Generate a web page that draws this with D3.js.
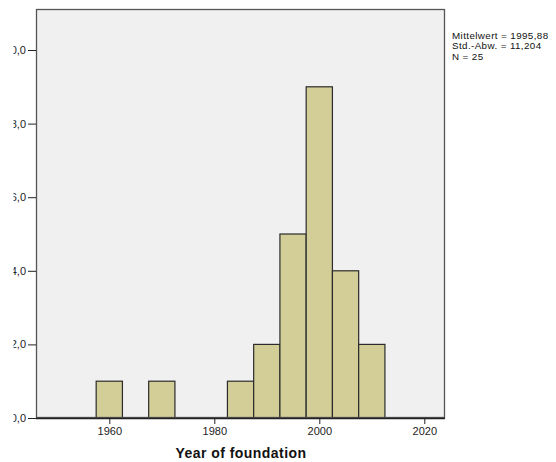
<!DOCTYPE html>
<html><head><meta charset="utf-8">
<script src="https://cdn.jsdelivr.net/npm/d3@7"></script>
<style>body{margin:0;background:#fff}svg{display:block;font-family:Arial,"Liberation Sans",sans-serif}</style>
</head><body>
<script>
const binStarts = [1957.5,1962.5,1967.5,1972.5,1977.5,1982.5,1987.5,1992.5,1997.5,2002.5,2007.5];
const counts    = [1,0,1,0,0,1,2,5,9,4,2];
const binWidth = 5;
const xTicks = [1960,1980,2000,2020];
const yTicks = [0,2,4,6,8,10];
const statsLines = ["Mittelwert = 1995,88","Std.-Abw. = 11,204","N = 25"];
const xTitle = "Year of foundation";

const W=556,H=462;
const L=36,T=9,R=445,B=418;
const svg=d3.select("body").append("svg").attr("width",W).attr("height",H);
const x=d3.scaleLinear().domain([1960,2020]).range([109.3,424.3]);
const y=d3.scaleLinear().domain([0,10]).range([B,50]);

svg.append("rect").attr("x",L).attr("y",T).attr("width",R-L).attr("height",B-T).attr("fill","#f0f0f0");

const bins=binStarts.map((s,i)=>({s,c:counts[i]})).filter(d=>d.c>0);
svg.append("g").selectAll("rect").data(bins).join("rect")
  .attr("x",d=>x(d.s)).attr("width",d=>x(d.s+binWidth)-x(d.s))
  .attr("y",d=>y(d.c)).attr("height",d=>y(0)-y(d.c))
  .attr("fill","#d3ce98").attr("stroke","#2b2b2b").attr("stroke-width",1.2);

svg.append("rect").attr("x",L+0.5).attr("y",T+0.5).attr("width",R-L-1).attr("height",B-T-1)
  .attr("fill","none").attr("stroke","#555").attr("stroke-width",1.3);

// y axis (labels clipped at the left like the reference)
svg.append("clipPath").attr("id","yc").append("rect").attr("x",13.5).attr("y",0).attr("width",40).attr("height",H);
const yWrap=svg.append("g").attr("clip-path","url(#yc)");
const ya=yWrap.append("g").attr("transform",`translate(${L},0)`)
  .call(d3.axisLeft(y).tickValues(yTicks).tickSize(8).tickPadding(2).tickFormat(d=>d3.format(".1f")(d).replace(".",",")));
ya.select(".domain").remove();
ya.selectAll(".tick line").attr("stroke","#222");
ya.selectAll("text").attr("font-size","11px").attr("fill","#222");

// x axis
const xa=svg.append("g").attr("transform",`translate(0,${B})`)
  .call(d3.axisBottom(x).tickValues(xTicks).tickSize(6).tickPadding(3).tickFormat(d3.format("d")));
xa.select(".domain").remove();
xa.selectAll(".tick line").attr("stroke","#222");
xa.selectAll("text").attr("font-size","11px").attr("fill","#222");
svg.append("line").attr("x1",L).attr("x2",R).attr("y1",B+0.5).attr("y2",B+0.5).attr("stroke","#222").attr("stroke-width",1.3);

svg.append("text").attr("x",241).attr("y",458).attr("text-anchor","middle")
  .attr("font-size","14px").attr("font-weight","bold").attr("letter-spacing","0.45px").attr("fill","#111").text(xTitle);

svg.append("g").selectAll("text").data(statsLines).join("text")
  .attr("x",452).attr("y",(d,i)=>38.5+i*10.8).attr("font-size","9.8px").attr("letter-spacing","0.4px").attr("fill","#111").text(d=>d);
</script>
</body></html>
